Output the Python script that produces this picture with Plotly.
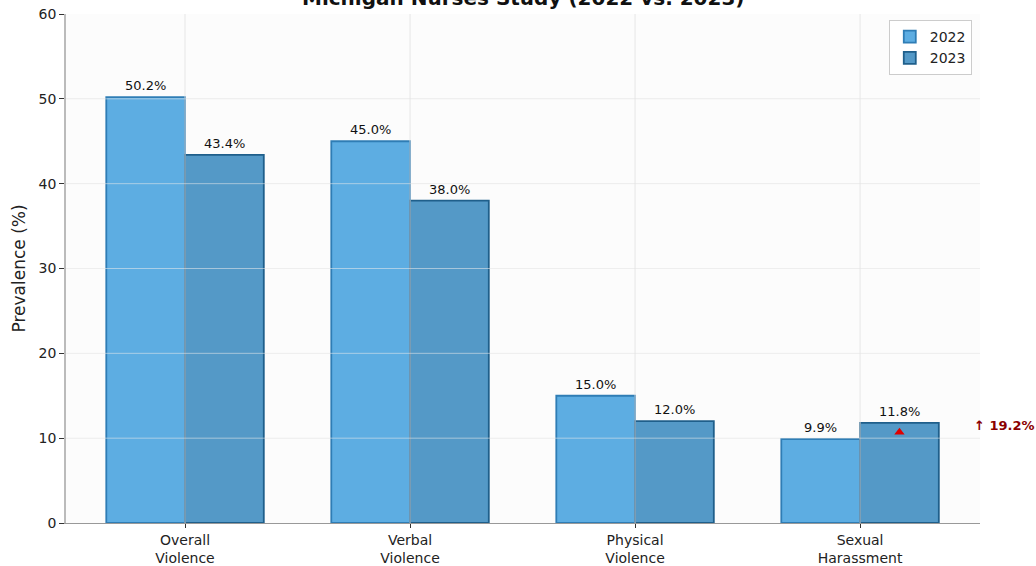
import plotly.graph_objects as go

categories = ["Overall<br>Violence", "Verbal<br>Violence", "Physical<br>Violence", "Sexual<br>Harassment"]
values_2022 = [50.2, 45.0, 15.0, 9.9]
values_2023 = [43.4, 38.0, 12.0, 11.8]
y_ticks = [0, 10, 20, 30, 40, 50, 60]
increase_label = "↑ 19.2%"

BAR_W = 0.35
idx = list(range(len(categories)))
x22 = [i - BAR_W / 2 for i in idx]
x23 = [i + BAR_W / 2 for i in idx]

fig = go.Figure()
fig.add_trace(go.Bar(
    x=x22, y=values_2022, width=BAR_W, name="2022",
    marker=dict(color="#5DADE2", line=dict(color="#2F7DB5", width=1.8)),
))
fig.add_trace(go.Bar(
    x=x23, y=values_2023, width=BAR_W, name="2023",
    marker=dict(color="#5499C7", line=dict(color="#1F5F8B", width=1.8)),
))

# value labels
for xs, vs in ((x22, values_2022), (x23, values_2023)):
    for xv, v in zip(xs, vs):
        fig.add_annotation(x=xv, y=v, text=f"{v:.1f}%", showarrow=False,
                           yanchor="bottom", yshift=2,
                           font=dict(size=13, color="#111111", family="DejaVu Sans"))

# red arrow on the increased bar (last category)
fig.add_trace(go.Scatter(
    x=[x23[-1]], y=[values_2023[-1] - 1.1], mode="markers",
    marker=dict(symbol="triangle-up", size=9, color="#E00000"),
    showlegend=False, hoverinfo="skip", cliponaxis=False,
))
fig.add_annotation(xref="paper", x=0.991, y=values_2023[-1], text=f"<b>{increase_label}</b>",
                   showarrow=False, xanchor="left", yanchor="middle", yshift=-3,
                   font=dict(size=13, color="#8B0000", family="DejaVu Sans"))

# grid lines drawn above bars (semi-transparent)
for t in y_ticks[1:-1]:
    fig.add_shape(type="line", xref="paper", x0=0, x1=1, yref="y", y0=t, y1=t,
                  line=dict(color="rgba(235,235,235,0.55)", width=1), layer="above")
for i in idx:
    fig.add_shape(type="line", xref="x", x0=i, x1=i, yref="paper", y0=0, y1=1,
                  line=dict(color="rgba(228,228,228,0.85)", width=1), layer="above")

# title (partially cut at the top, as in the reference)
fig.add_annotation(xref="paper", yref="paper", x=0.5, y=1.0, yanchor="bottom", yshift=2,
                   text="<b>Michigan Nurses Study (2022 vs. 2023)</b>", showarrow=False,
                   font=dict(size=20, color="#111111", family="DejaVu Sans"))

fig.update_layout(
    width=1036, height=566,
    margin=dict(l=66, r=56, t=14, b=43),
    paper_bgcolor="white", plot_bgcolor="#FCFCFC",
    font=dict(family="DejaVu Sans", color="#222222"),
    barmode="overlay",
    legend=dict(x=0.991, y=0.988, xanchor="right", yanchor="top",
                bgcolor="white", bordercolor="#CCCCCC", borderwidth=1,
                font=dict(size=14, color="#222222")),
    showlegend=True,
)
fig.update_xaxes(
    range=[-0.529, 3.533], tickmode="array", tickvals=idx, ticktext=categories,
    showgrid=False, zeroline=False, showline=True, linecolor="#999999", linewidth=1,
    ticks="outside", ticklen=4, tickcolor="#333333", automargin=False,
    tickfont=dict(size=14, color="#222222"),
)
fig.update_yaxes(
    range=[0, 60], tickmode="array", tickvals=y_ticks,
    showgrid=True, gridcolor="#F2F2F2", zeroline=False,
    showline=True, linecolor="#BBBBBB", linewidth=1.5,
    ticks="outside", ticklen=5, tickcolor="#333333", automargin=False,
    tickfont=dict(size=14, color="#222222"),
    title=dict(text="Prevalence (%)", font=dict(size=17, color="#222222"), standoff=9),
)

fig.write_html("out.html")
